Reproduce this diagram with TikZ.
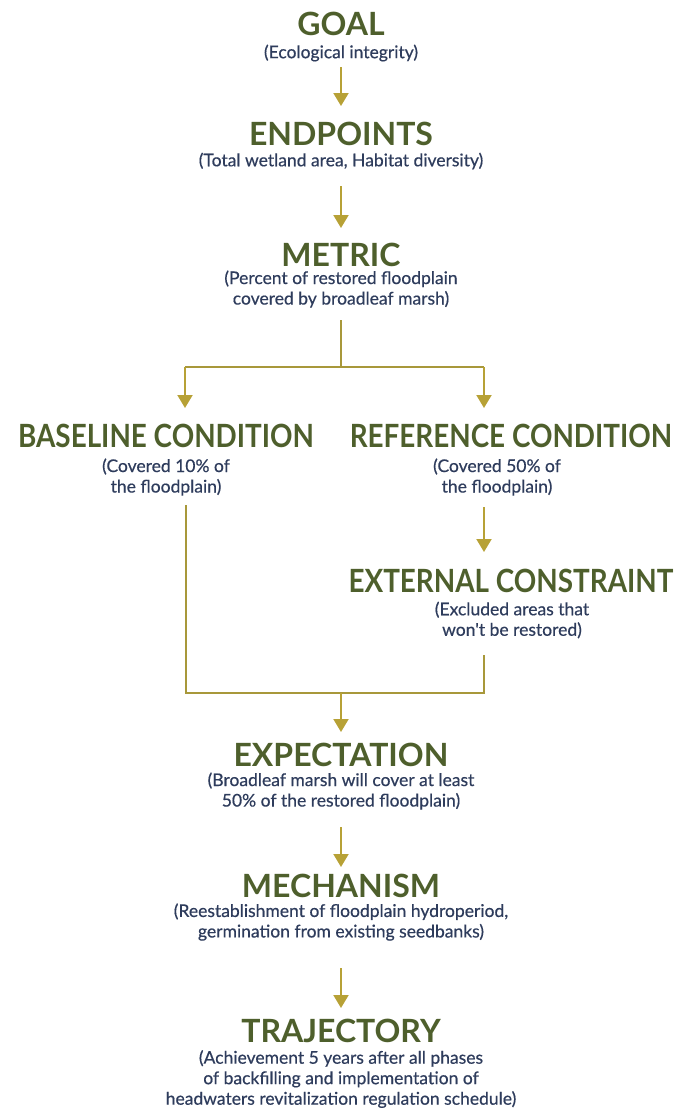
\documentclass[tikz,border=0pt]{standalone}
\usepackage{fontspec}
\setmainfont{Lato}
\newfontfamily\subfont[FakeBold=0.5]{Lato}
\usetikzlibrary{arrows.meta}
\definecolor{titlegreen}{HTML}{4E5F2C}
\definecolor{subblue}{HTML}{2E3C5C}
\definecolor{arrowgold}{HTML}{B7A136}
\definecolor{linegold}{HTML}{A8983A}
\begin{document}
\begin{tikzpicture}[x=1pt,y=-1pt,
 ttl/.style={font=\fontsize{32}{34}\selectfont\bfseries, text=titlegreen, inner sep=0pt},
 ttlw/.style={font=\fontsize{32}{34}\selectfont\bfseries\addfontfeature{FakeStretch=0.87}, text=titlegreen, inner sep=0pt},
 sub/.style={font=\subfont\fontsize{17.5}{20.5}\selectfont, text=subblue, align=center, inner sep=0pt},
 flow/.style={draw=arrowgold, line width=2pt, -{Triangle[width=15pt,length=13pt]}},
 link/.style={draw=linegold, line width=1.3pt}]
\useasboundingbox (0,0) rectangle (674,1109);
% titles
\node[ttl] (goal) at (341,24) {GOAL};
\node[sub] (goalsub) at (341,53) {(Ecological integrity)};
\node[ttl] (endp) at (341,134) {ENDPOINTS};
\node[sub] (endpsub) at (341,161) {(Total wetland area, Habitat diversity)};
\node[ttl] (metric) at (341,255) {METRIC};
\node[sub] (metricsub) at (341,289) {(Percent of restored floodplain\\covered by broadleaf marsh)};
\node[ttlw] (base) at (166,436) {BASELINE CONDITION};
\node[sub] (basesub) at (166,477) {(Covered 10\% of\\the floodplain)};
\node[ttlw] (ref) at (511,436) {REFERENCE CONDITION};
\node[sub] (refsub) at (497,477) {(Covered 50\% of\\the floodplain)};
\node[ttlw] (ext) at (511,581) {EXTERNAL CONSTRAINT};
\node[sub] (extsub) at (512,620) {(Excluded areas that\\won't be restored)};
\node[ttl] (expc) at (341,755) {EXPECTATION};
\node[sub] (expcsub) at (341,791) {(Broadleaf marsh will cover at least\\50\% of the restored floodplain)};
\node[ttl] (mech) at (341,886) {MECHANISM};
\node[sub] (mechsub) at (341,922) {(Reestablishment of floodplain hydroperiod,\\germination from existing seedbanks)};
\node[ttl] (traj) at (341,1031) {TRAJECTORY};
\node[sub] (trajsub) at (341,1079) {(Achievement 5 years after all phases\\of backfilling and implementation of\\headwaters revitalization regulation schedule)};
% connector points
\coordinate (c1a) at (341,67);  \coordinate (c1b) at (341,106);
\coordinate (c2a) at (341,186); \coordinate (c2b) at (341,228);
\coordinate (mtop) at (341,320); \coordinate (mjoin) at (341,367);
\coordinate (ml) at (185,367); \coordinate (mr) at (484,367);
\coordinate (mlb) at (185,408); \coordinate (mrb) at (484,408);
\coordinate (r1) at (484,507); \coordinate (r2) at (484,552);
\coordinate (bt) at (186,505); \coordinate (bb) at (186,693);
\coordinate (et) at (484,655); \coordinate (eb) at (484,693);
\coordinate (jn) at (341,693); \coordinate (jnb) at (341,732);
\coordinate (x1) at (341,827); \coordinate (x2) at (341,867);
\coordinate (y1) at (341,968); \coordinate (y2) at (341,1008);
% connectors
\draw[flow] (c1a) -- (c1b);
\draw[flow] (c2a) -- (c2b);
\draw[link] (mtop) -- (mjoin);
\draw[link] (ml) -- (mr);
\draw[flow] (ml) -- (mlb);
\draw[flow] (mr) -- (mrb);
\draw[flow] (r1) -- (r2);
\draw[link] (bt) -- (bb) -- (eb) -- (et);
\draw[flow] (jn) -- (jnb);
\draw[flow] (x1) -- (x2);
\draw[flow] (y1) -- (y2);
\end{tikzpicture}
\end{document}
